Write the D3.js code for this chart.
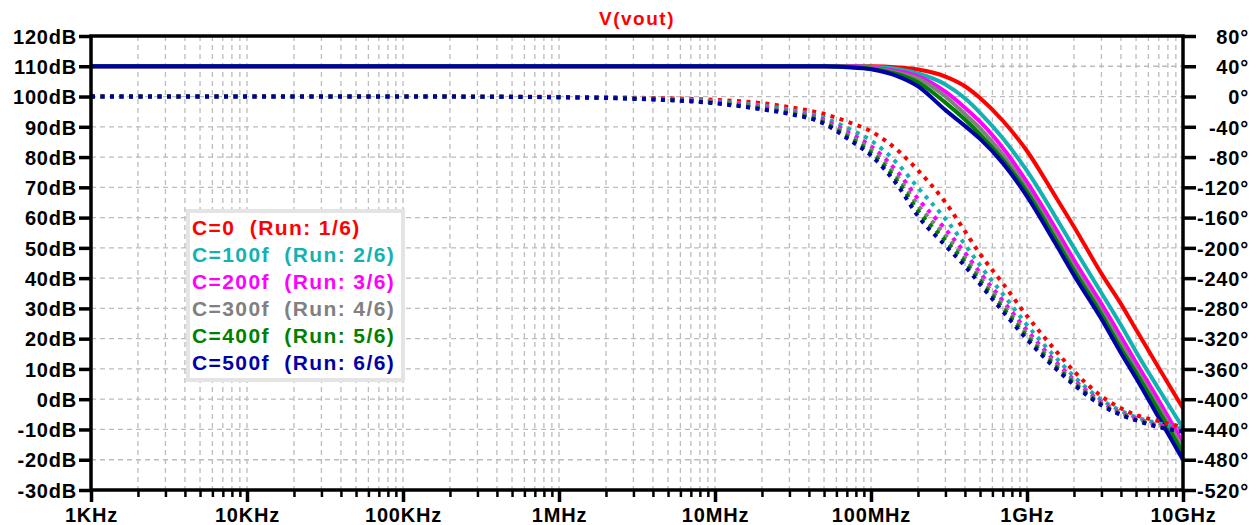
<!DOCTYPE html>
<html>
<head>
<meta charset="utf-8">
<script src="https://cdn.jsdelivr.net/npm/d3@7"></script>
<style>
  body { margin: 0; background: #fff; }
  text { font-family: "Liberation Sans", Arial, sans-serif; font-weight: bold; }
</style>
</head>
<body>
<div id="chart"></div>
<script>
// frequency points (Hz)
const freqs = [1e3, 1e4, 1e5, 1e6, 3e6, 1e7, 2e7, 3e7, 5e7, 7e7, 1e8, 1.5e8, 2e8, 3e8, 4e8, 5e8, 7e8,
  1e9, 1.5e9, 2e9, 3e9, 4e9, 5e9, 7e9, 1e10];

// magnitude (dB), one array per run
const magC0   = [110, 110, 110, 110, 110, 110, 110, 110, 110, 110, 110, 109.6, 108.9, 106.6, 103.4, 99.5, 92, 82, 67.5, 57, 41.5, 31.5, 23, 10.3, -3];
const magC100 = [110, 110, 110, 110, 110, 110, 110, 110, 110, 110, 109.8, 109.0, 107.6, 104.0, 99.4, 94.6, 86.2, 75.4, 60.8, 50.0, 35.1, 24.5, 15.7, 3.3, -9.5];
const magC200 = [110, 110, 110, 110, 110, 110, 110, 110, 110, 110, 109.6, 108.3, 106.7, 101.6, 96.3, 91.7, 83.0, 71.7, 57, 46.0, 31.5, 20.6, 12.1, -0.5, -14.5];
const magC300 = [110, 110, 110, 110, 110, 110, 110, 110, 110, 109.9, 109.4, 107.8, 106.0, 100.0, 94.2, 89.5, 80.8, 69.6, 54.8, 43.8, 29.3, 18.4, 10.0, -2.6, -16.2];
const magC400 = [110, 110, 110, 110, 110, 110, 110, 110, 110, 109.8, 109.2, 107.3, 104.7, 98.0, 92.4, 87.5, 79.1, 68.4, 53.5, 42.5, 28.0, 16.7, 8.7, -3.9, -17.9];
const magC500 = [110, 110, 110, 110, 110, 110, 110, 110, 110, 109.7, 109.0, 106.6, 103.4, 95.5, 90.3, 86.0, 78, 67.0, 52, 41, 26.5, 15.3, 7.0, -6.1, -20];

// phase (degrees), one array per run
const phaseC0   = [0, 0, 0, -0.5, -1.5, -4.5, -8.8, -14, -23, -33, -46, -72, -97.5, -140, -178, -208, -247, -290, -334, -363, -396, -412, -421, -429, -437];
const phaseC100 = [0, 0, 0, -0.7, -2.1, -6.2, -11.9, -17.4, -27.9, -41.4, -58.2, -89.9, -120.5, -161.7, -195.5, -223.2, -261.1, -301.8, -343.1, -369.8, -400.6, -415.4, -423.7, -432, -439.3];
const phaseC200 = [0, 0, 0, -0.8, -2.4, -7.3, -13.9, -19.6, -31.1, -46.6, -65.8, -101.1, -135, -175.3, -206.5, -232.8, -269.9, -309.2, -348.9, -374.2, -403.4, -417.6, -425.3, -434, -440.7];
const phaseC300 = [0, 0, 0, -0.9, -2.6, -7.9, -15, -20.8, -32.9, -49.7, -70.3, -107.7, -143.5, -183.3, -213, -238.4, -275.1, -313.6, -352.2, -376.7, -405.1, -418.8, -426.3, -435.1, -441.6];
const phaseC400 = [0, 0, 0, -0.9, -2.8, -8.5, -16, -21.9, -34.4, -52.4, -74.2, -113.4, -150.7, -190.2, -218.5, -243.2, -279.6, -317.3, -355.1, -378.8, -406.6, -419.9, -427.2, -436, -442.3];
const phaseC500 = [0, 0, 0, -1, -3, -9, -17, -23, -36, -55, -78, -119, -158, -197, -224, -248, -284, -321, -358, -381, -408, -421, -428, -437, -443];

const runLabels = ["C=0  (Run: 1/6)", "C=100f  (Run: 2/6)", "C=200f  (Run: 3/6)",
  "C=300f  (Run: 4/6)", "C=400f  (Run: 5/6)", "C=500f  (Run: 6/6)"];
const runColors = ["#ff0000", "#13b2b2", "#ff00ff", "#808080", "#008000", "#0000a8"];

const decadeTicks = [1e3, 1e4, 1e5, 1e6, 1e7, 1e8, 1e9, 1e10];
const decadeLabels = ["1KHz", "10KHz", "100KHz", "1MHz", "10MHz", "100MHz", "1GHz", "10GHz"];
const magTicks = d3.range(-30, 121, 10);
const phaseTicks = d3.range(-520, 81, 40);

const mags = [magC0, magC100, magC200, magC300, magC400, magC500];
const phases = [phaseC0, phaseC100, phaseC200, phaseC300, phaseC400, phaseC500];

const width = 1257, height = 525;
const margin = { top: 36, right: 74, bottom: 35, left: 91 };

const svg = d3.select("#chart").append("svg")
  .attr("width", width)
  .attr("height", height);

const x = d3.scaleLog()
  .domain([1e3, 1e10])
  .range([margin.left, width - margin.right]);

const yMag = d3.scaleLinear()
  .domain([-30, 120])
  .range([height - margin.bottom, margin.top]);

const yPhase = d3.scaleLinear()
  .domain([-520, 80])
  .range([height - margin.bottom, margin.top]);

// grid
const grid = svg.append("g")
  .attr("stroke", "#bcbcbc")
  .attr("stroke-width", 1.3)
  .attr("stroke-dasharray", "5,4");

grid.selectAll("line.v")
  .data(x.ticks().filter(f => f > 1e3 && f < 1e10))
  .enter().append("line")
  .attr("x1", d => x(d)).attr("x2", d => x(d))
  .attr("y1", margin.top).attr("y2", height - margin.bottom);

grid.selectAll("line.h")
  .data(magTicks.filter(d => d > -30 && d < 120))
  .enter().append("line")
  .attr("x1", margin.left).attr("x2", width - margin.right)
  .attr("y1", d => yMag(d)).attr("y2", d => yMag(d));

// curves
const plot = svg.append("g");

const magLine = d3.line()
  .x((d, i) => x(freqs[i]))
  .y(d => yMag(d))
  .curve(d3.curveMonotoneX);

const phaseLine = d3.line()
  .x((d, i) => x(freqs[i]))
  .y(d => yPhase(d))
  .curve(d3.curveMonotoneX);

mags.forEach((m, k) => {
  plot.append("path")
    .attr("d", magLine(m))
    .attr("fill", "none")
    .attr("stroke", runColors[k])
    .attr("stroke-width", 4)
    .attr("stroke-linejoin", "round");
});

phases.forEach((p, k) => {
  plot.append("path")
    .attr("d", phaseLine(p))
    .attr("fill", "none")
    .attr("stroke", runColors[k])
    .attr("stroke-width", 4)
    .attr("stroke-dasharray", "4,5.5");
});

// axes
function styleAxis(g) {
  g.select(".domain").remove();
  g.selectAll(".tick line").attr("stroke", "#000").attr("stroke-width", 3.5);
  g.selectAll(".tick text")
    .attr("fill", "#000")
    .style("font-size", "20px")
    .style("letter-spacing", "0.8px")
    .style("font-family", '"Liberation Sans", Arial, sans-serif')
    .style("font-weight", "bold");
}

svg.append("g")
  .attr("transform", `translate(${margin.left},0)`)
  .call(d3.axisLeft(yMag).tickValues(magTicks).tickSize(12).tickPadding(2).tickFormat(d => d + "dB"))
  .call(styleAxis)
  .call(g => g.selectAll(".tick text").attr("dy", "0.36em"));

svg.append("g")
  .attr("transform", `translate(${width - margin.right},0)`)
  .call(d3.axisRight(yPhase).tickValues(phaseTicks).tickSize(13).tickFormat(d => d + "\u00b0"))
  .call(styleAxis)
  .call(g => g.selectAll(".tick text").attr("text-anchor", "end").attr("x", 66).attr("dy", "0.36em"));

svg.append("g")
  .attr("transform", `translate(0,${height - margin.bottom})`)
  .call(d3.axisBottom(x).tickValues(x.ticks().filter(f => !decadeTicks.includes(f))).tickSize(7).tickFormat(""))
  .call(styleAxis)
  .call(g => g.selectAll(".tick line").attr("stroke-width", 2.5));

svg.append("g")
  .attr("transform", `translate(0,${height - margin.bottom})`)
  .call(d3.axisBottom(x).tickValues(decadeTicks).tickSize(12).tickPadding(6)
    .tickFormat((d, i) => decadeLabels[i]))
  .call(styleAxis);

// frame
svg.append("rect")
  .attr("x", margin.left).attr("y", margin.top)
  .attr("width", width - margin.left - margin.right)
  .attr("height", height - margin.top - margin.bottom)
  .attr("fill", "none")
  .attr("stroke", "#000")
  .attr("stroke-width", 3.5);

// title
svg.append("text")
  .attr("x", (margin.left + width - margin.right) / 2)
  .attr("y", 25)
  .attr("text-anchor", "middle")
  .attr("fill", "#ff0000")
  .style("font-size", "19px")
  .style("letter-spacing", "1.5px")
  .text("V(vout)");

// legend
const legend = svg.append("g");
legend.append("rect")
  .attr("x", 188).attr("y", 211)
  .attr("width", 215).attr("height", 169)
  .attr("fill", "#fff")
  .attr("stroke", "#e4e4e4")
  .attr("stroke-width", 4);

legend.selectAll("text")
  .data(runLabels)
  .enter().append("text")
  .attr("x", 192)
  .attr("y", (d, i) => 227 + i * 27)
  .attr("dy", "0.36em")
  .attr("fill", (d, i) => runColors[i])
  .style("font-size", "21px")
  .style("letter-spacing", "1.4px")
  .style("white-space", "pre")
  .text(d => d);
</script>
</body>
</html>
